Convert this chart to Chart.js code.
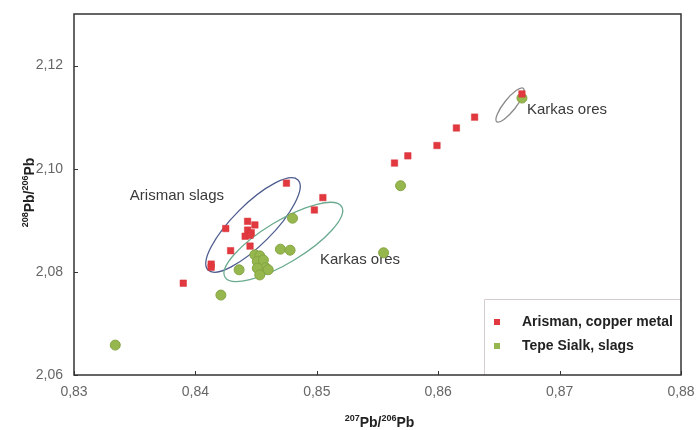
<!DOCTYPE html>
<html>
<head>
<meta charset="utf-8">
<script src="https://cdn.jsdelivr.net/npm/chart.js@4/dist/chart.umd.min.js"></script>
<style>
  html, body { margin: 0; padding: 0; background: #ffffff; }
  #wrap { width: 698px; height: 430px; }
</style>
</head>
<body>
<div id="wrap"><canvas id="c" width="698" height="430"></canvas></div>
<script>
// Lead isotope ratios: 207Pb/206Pb (x) against 208Pb/206Pb (y)
const arismanX = [0.8390, 0.8413, 0.8413, 0.8425, 0.8429, 0.8443, 0.8449, 0.8443, 0.8446, 0.8441,
                  0.8445, 0.8445, 0.8475, 0.8498, 0.8505, 0.8564, 0.8575, 0.8599, 0.8615, 0.8630, 0.8669];
const arismanY = [2.0778, 2.0815, 2.0809, 2.0884, 2.0841, 2.0898, 2.0891, 2.0881, 2.0876, 2.0869,
                  2.0871, 2.0850, 2.0972, 2.0920, 2.0944, 2.1011, 2.1025, 2.1045, 2.1079, 2.1100, 2.1145];

const sialkX = [0.8334, 0.8421, 0.8436, 0.8449, 0.8453, 0.8451, 0.8456, 0.8458, 0.8460, 0.8451,
                0.8453, 0.8470, 0.8478, 0.8480, 0.8555, 0.8569, 0.8669];
const sialkY = [2.0658, 2.0755, 2.0804, 2.0833, 2.0831, 2.0820, 2.0823, 2.0808, 2.0804, 2.0807,
                2.0794, 2.0844, 2.0842, 2.0904, 2.0837, 2.0967, 2.1137];

const seriesNames = ['Arisman, copper metal', 'Tepe Sialk, slags'];

const xTicks = [0.83, 0.84, 0.85, 0.86, 0.87, 0.88];
const yTicks = [2.06, 2.08, 2.10, 2.12];

// Field ellipses: ends of the long axis in data units, half-width in px
const fields = [
  { from: [0.84104, 2.08036], to: [0.84845, 2.09781], half: 20, color: '#4d5c8e' },
  { from: [0.84244, 2.07895], to: [0.85205, 2.09264], half: 21, color: '#6aaa8e' },
  { from: [0.86482, 2.10912], to: [0.86701, 2.11559], half: 6,  color: '#8a8a8a' }
];

// Field captions (centre position in data units)
const captions = [
  { text: 'Arisman slags', x: 0.83848, y: 2.09471 },
  { text: 'Karkas ores',   x: 0.85356, y: 2.08230 },
  { text: 'Karkas ores',   x: 0.87061, y: 2.11139 }
];

const RED = '#e2383f';
const GREEN = '#95b74d';

const pts = (xs, ys) => xs.map((x, i) => ({ x: x, y: ys[i] }));
const fmt = v => v.toFixed(2).replace('.', ',');

function drawSupText(ctx, parts, x, y) {
  // parts: [text, isSup]; draws centred at (x, y) on the current transform
  const big = 'bold 14px "Liberation Sans", Arial, sans-serif';
  const small = 'bold 9px "Liberation Sans", Arial, sans-serif';
  let w = 0;
  parts.forEach(p => { ctx.font = p[1] ? small : big; w += ctx.measureText(p[0]).width; });
  let cx = x - w / 2;
  ctx.textBaseline = 'alphabetic';
  ctx.textAlign = 'left';
  parts.forEach(p => {
    ctx.font = p[1] ? small : big;
    ctx.fillText(p[0], cx, p[1] ? y - 6 : y);
    cx += ctx.measureText(p[0]).width;
  });
}

function noPad(s) {
  s.paddingLeft = 0; s.paddingRight = 0; s.paddingTop = 0; s.paddingBottom = 0;
}

const decor = {
  id: 'decor',
  beforeDatasetsDraw(chart) {
    const { ctx, chartArea: a, scales: { x: sx, y: sy } } = chart;
    ctx.save();
    // legend frame
    ctx.strokeStyle = '#d6ccd0';
    ctx.lineWidth = 1;
    const lx = sx.getPixelForValue(0.8638);
    ctx.beginPath();
    ctx.moveTo(Math.round(lx) + 0.5, a.bottom);
    ctx.lineTo(Math.round(lx) + 0.5, 299.5);
    ctx.lineTo(a.right, 299.5);
    ctx.stroke();

    // field ellipses
    fields.forEach(f => {
      const x1 = sx.getPixelForValue(f.from[0]), y1 = sy.getPixelForValue(f.from[1]);
      const x2 = sx.getPixelForValue(f.to[0]),   y2 = sy.getPixelForValue(f.to[1]);
      const cx = (x1 + x2) / 2, cy = (y1 + y2) / 2;
      const ra = Math.hypot(x2 - x1, y2 - y1) / 2;
      const rot = Math.atan2(y2 - y1, x2 - x1);
      ctx.beginPath();
      ctx.ellipse(cx, cy, ra, f.half, rot, 0, Math.PI * 2);
      ctx.strokeStyle = f.color;
      ctx.lineWidth = 1.3;
      ctx.stroke();
    });

    // captions
    ctx.fillStyle = '#3a3a3a';
    ctx.font = '15px "Liberation Sans", Arial, sans-serif';
    ctx.textAlign = 'center';
    ctx.textBaseline = 'middle';
    captions.forEach(c => {
      ctx.fillText(c.text, sx.getPixelForValue(c.x), sy.getPixelForValue(c.y));
    });
    ctx.restore();
  },
  afterDraw(chart) {
    const { ctx, chartArea: a, scales: { x: sx, y: sy } } = chart;
    ctx.save();
    // plot frame
    ctx.strokeStyle = '#333333';
    ctx.lineWidth = 1.5;
    ctx.strokeRect(a.left, a.top, a.right - a.left, a.bottom - a.top);
    // inward tick marks
    ctx.lineWidth = 1;
    ctx.beginPath();
    xTicks.forEach(v => {
      const px = Math.round(sx.getPixelForValue(v)) + 0.5;
      ctx.moveTo(px, a.bottom); ctx.lineTo(px, a.bottom - 4);
    });
    yTicks.forEach(v => {
      const py = Math.round(sy.getPixelForValue(v)) + 0.5;
      ctx.moveTo(a.left, py); ctx.lineTo(a.left + 4, py);
    });
    ctx.stroke();

    // legend
    const ds = chart.data.datasets;
    ctx.font = 'bold 14px "Liberation Sans", Arial, sans-serif';
    ctx.textAlign = 'left';
    ctx.textBaseline = 'middle';
    [322, 346].forEach((yy, i) => {
      ctx.fillStyle = ds[i].backgroundColor;
      ctx.fillRect(494, yy - 3, 6, 6);
      ctx.fillStyle = '#222222';
      ctx.fillText(ds[i].label, 522, yy);
    });

    // axis titles
    ctx.fillStyle = '#222222';
    drawSupText(ctx, [['207', true], ['Pb/', false], ['206', true], ['Pb', false]],
                (a.left + a.right) / 2 + 2, 427);
    ctx.translate(34, (a.top + a.bottom) / 2 - 2);
    ctx.rotate(-Math.PI / 2);
    drawSupText(ctx, [['208', true], ['Pb/', false], ['206', true], ['Pb', false]], 0, 0);
    ctx.restore();
  }
};

new Chart(document.getElementById('c'), {
  type: 'scatter',
  data: {
    datasets: [
      {
        label: seriesNames[0],
        data: pts(arismanX, arismanY),
        pointStyle: 'rect',
        pointRadius: 4.6,
        backgroundColor: RED,
        borderColor: '#d8343a',
        borderWidth: 0.5
      },
      {
        label: seriesNames[1],
        data: pts(sialkX, sialkY),
        pointStyle: 'circle',
        pointRadius: 5,
        backgroundColor: GREEN,
        borderColor: '#86a544',
        borderWidth: 1
      }
    ]
  },
  options: {
    responsive: false,
    animation: false,
    devicePixelRatio: 1,
    layout: { padding: { left: 0, top: 14, right: 17, bottom: 0 } },
    plugins: { legend: { display: false }, tooltip: { enabled: false } },
    scales: {
      x: {
        type: 'linear',
        min: 0.83, max: 0.88,
        grid: { display: false, drawTicks: false },
        border: { display: false },
        afterBuildTicks: s => { s.ticks = xTicks.map(v => ({ value: v })); },
        afterFit: s => { s.height = 55; noPad(s); },
        ticks: {
          callback: v => fmt(v),
          color: '#666666',
          padding: 9,
          maxRotation: 0,
          autoSkip: false,
          font: { family: '"Liberation Sans", Arial, sans-serif', size: 14 }
        }
      },
      y: {
        type: 'linear',
        min: 2.06, max: 2.13,
        grid: { display: false, drawTicks: false },
        border: { display: false },
        afterBuildTicks: s => { s.ticks = yTicks.map(v => ({ value: v })); },
        afterFit: s => { s.width = 74; noPad(s); },
        ticks: {
          callback: v => fmt(v),
          color: '#666666',
          padding: 11,
          autoSkip: false,
          font: { family: '"Liberation Sans", Arial, sans-serif', size: 14 }
        }
      }
    }
  },
  plugins: [decor]
});
</script>
</body>
</html>
